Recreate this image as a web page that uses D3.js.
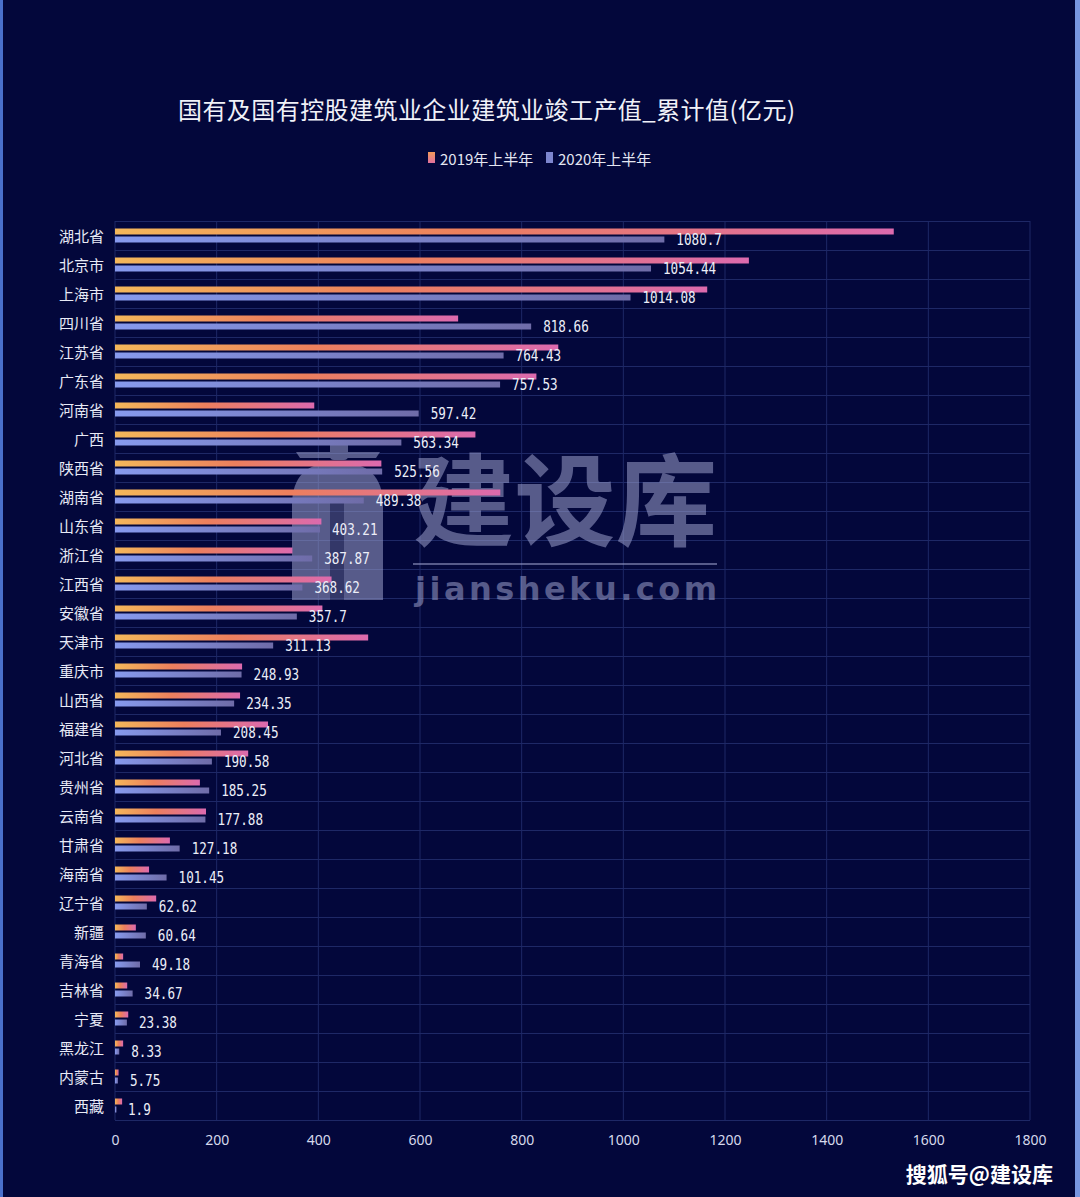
<!DOCTYPE html>
<html>
<head>
<meta charset="utf-8">
<script src="https://cdn.jsdelivr.net/npm/d3@7"></script>
<style>
  html, body { margin: 0; padding: 0; background: #03063a; }
  svg { display: block; }
</style>
</head>
<body>
<svg id="chart" width="1080" height="1197"></svg>
<script>
const categories = ["湖北省","北京市","上海市","四川省","江苏省","广东省","河南省","广西","陕西省","湖南省","山东省","浙江省","江西省","安徽省","天津市","重庆市","山西省","福建省","河北省","贵州省","云南省","甘肃省","海南省","辽宁省","新疆","青海省","吉林省","宁夏","黑龙江","内蒙古","西藏"];
const values2019 = [1532,1247,1165,675,872,829,392,709,524,758,406,349,426,408,498,250,246,301,262,167,179,108,67,81,41,16,24,26,16,7,14];
const values2020 = [1080.7,1054.44,1014.08,818.66,764.43,757.53,597.42,563.34,525.56,489.38,403.21,387.87,368.62,357.7,311.13,248.93,234.35,208.45,190.58,185.25,177.88,127.18,101.45,62.62,60.64,49.18,34.67,23.38,8.33,5.75,1.9];
const seriesNames = ["2019年上半年","2020年上半年"];
const xTicks = [0,200,400,600,800,1000,1200,1400,1600,1800];
const titleText = "国有及国有控股建筑业企业建筑业竣工产值_累计值(亿元)";

const W = 1080, H = 1197;
const svg = d3.select("#chart");
const defs = svg.append("defs");

const gOrange = defs.append("linearGradient").attr("id","gOrange").attr("x1","0").attr("y1","0").attr("x2","1").attr("y2","0");
gOrange.append("stop").attr("offset","0").attr("stop-color","#f4b75a");
gOrange.append("stop").attr("offset","0.45").attr("stop-color","#ec7f5d");
gOrange.append("stop").attr("offset","1").attr("stop-color","#dc6aae");
const gBlue = defs.append("linearGradient").attr("id","gBlue").attr("x1","0").attr("y1","0").attr("x2","1").attr("y2","0");
gBlue.append("stop").attr("offset","0").attr("stop-color","#879aee");
gBlue.append("stop").attr("offset","1").attr("stop-color","#6f6ca8");
const gOrangeV = defs.append("linearGradient").attr("id","gOrangeV").attr("x1","0").attr("y1","0").attr("x2","0").attr("y2","1");
gOrangeV.append("stop").attr("offset","0").attr("stop-color","#f09a5a");
gOrangeV.append("stop").attr("offset","1").attr("stop-color","#e0709e");

// background
svg.append("rect").attr("width",W).attr("height",H).attr("fill","#03073b");
svg.append("rect").attr("x",0).attr("y",0).attr("width",3).attr("height",H).attr("fill","#4a70cc");
svg.append("rect").attr("x",1075).attr("y",0).attr("width",5).attr("height",H).attr("fill","#7896e0");

const x = d3.scaleLinear().domain([0,1800]).range([115,1030]);
const y = d3.scaleBand().domain(categories).range([221,1120]).padding(0);
const bw = y.bandwidth();

// grid
const grid = svg.append("g");
grid.selectAll("line.v").data(xTicks).join("line")
  .attr("x1", d=>x(d)).attr("x2", d=>x(d)).attr("y1",221).attr("y2",1120)
  .attr("stroke","#1e2866").attr("stroke-width",1);
const hLines = categories.map(c=>y(c)).concat([1120]);
grid.selectAll("line.h").data(hLines).join("line")
  .attr("x1",115).attr("x2",1030).attr("y1",d=>d+0.5).attr("y2",d=>d+0.5)
  .attr("stroke","#1e2866").attr("stroke-width",1);

// watermark
const wm = svg.append("g").attr("opacity",0.55);
wm.append("path")
  .attr("d","M292,600 L292,505 Q292,462 337,462 Q383,462 383,505 L383,600 Z")
  .attr("fill","#9ca0cc");
wm.append("rect").attr("x",330).attr("y",500).attr("width",14).attr("height",100).attr("fill","#5b5f8e");
wm.append("rect").attr("x",330).attr("y",440).attr("width",18).attr("height",20).attr("rx",4).attr("fill","#9ca0cc");
wm.append("path").attr("d","M296,452 L380,452 L376,458 L300,458 Z").attr("fill","#9ca0cc");
wm.append("text").attr("x",413).attr("y",538)
  .attr("font-family","'Noto Sans CJK SC', sans-serif").attr("font-weight",700)
  .attr("font-size",100).attr("fill","#9ca0cc")
  .attr("textLength",304).attr("lengthAdjust","spacingAndGlyphs").text("建设库");
wm.append("rect").attr("x",413).attr("y",563).attr("width",304).attr("height",2).attr("fill","#9ca0cc");
wm.append("text").attr("x",415).attr("y",600)
  .attr("font-family","'DejaVu Sans', sans-serif").attr("font-weight",700)
  .attr("font-size",32).attr("fill","#9ca0cc")
  .attr("textLength",302).attr("lengthAdjust","spacing").text("jiansheku.com");

// bars
const rows = categories.map((c,i)=>({c, v19: values2019[i], v20: values2020[i]}));
const bars = svg.append("g");
bars.selectAll("rect.o").data(rows).join("rect")
  .attr("x", x(0)).attr("y", d=>y(d.c)+bw/2-7).attr("height",6)
  .attr("width", d=>Math.max(1, x(d.v19)-x(0))).attr("fill","url(#gOrange)");
bars.selectAll("rect.b").data(rows).join("rect")
  .attr("x", x(0)).attr("y", d=>y(d.c)+bw/2+1).attr("height",6)
  .attr("width", d=>Math.max(1.5, x(d.v20)-x(0))).attr("fill","url(#gBlue)");

// value labels
svg.append("g").selectAll("text").data(rows).join("text")
  .attr("x", d=>x(d.v20)+12).attr("y", d=>y(d.c)+bw/2+4.5)
  .attr("dominant-baseline","central")
  .attr("font-family","'DejaVu Sans Mono', monospace").attr("font-size",15)
  .attr("fill","#eceef8")
  .attr("textLength", d=>String(d.v20).length*7.6).attr("lengthAdjust","spacingAndGlyphs")
  .text(d=>String(d.v20));

// y axis labels
svg.append("g").selectAll("text").data(categories).join("text")
  .attr("x",104).attr("y", d=>y(d)+bw/2)
  .attr("text-anchor","end").attr("dominant-baseline","central")
  .attr("font-family","'Noto Sans CJK SC', sans-serif").attr("font-size",15)
  .attr("fill","#e8eaf6").text(d=>d);

// x axis
const xAxis = d3.axisBottom(x).tickValues(xTicks).tickSize(0).tickPadding(0).tickFormat(d3.format("d"));
const ax = svg.append("g").attr("transform","translate(0,1120)").call(xAxis);
ax.select(".domain").remove();
ax.selectAll("text").attr("y",19).attr("dy","0")
  .attr("dominant-baseline","central")
  .attr("font-family","'Noto Sans', sans-serif").attr("font-size",14)
  .attr("fill","#d6d9ec");

// title
svg.append("text").attr("x",178).attr("y",108).attr("dominant-baseline","central")
  .attr("font-family","'Noto Sans CJK SC', sans-serif").attr("font-size",24)
  .attr("fill","#f0f1f8")
  .attr("textLength",617).attr("lengthAdjust","spacing").text(titleText);

// legend
const legendX = [428, 546];
const lg = svg.append("g");
lg.selectAll("rect").data(seriesNames).join("rect")
  .attr("x",(d,i)=>legendX[i]).attr("y",152).attr("width",7).attr("height",11)
  .attr("fill",(d,i)=> i===0 ? "url(#gOrangeV)" : "#7d86cf");
lg.selectAll("text").data(seriesNames).join("text")
  .attr("x",(d,i)=>legendX[i]+12).attr("y",158).attr("dominant-baseline","central")
  .attr("font-family","'Noto Sans CJK SC', sans-serif").attr("font-size",15)
  .attr("fill","#e4e6f2").text(d=>d);

// source mark
svg.append("text").attr("x",1053).attr("y",1173).attr("text-anchor","end").attr("dominant-baseline","central")
  .attr("font-family","'Noto Sans CJK SC', sans-serif").attr("font-weight",700).attr("font-size",21)
  .attr("fill","#ffffff").text("搜狐号@建设库");
</script>
</body>
</html>
